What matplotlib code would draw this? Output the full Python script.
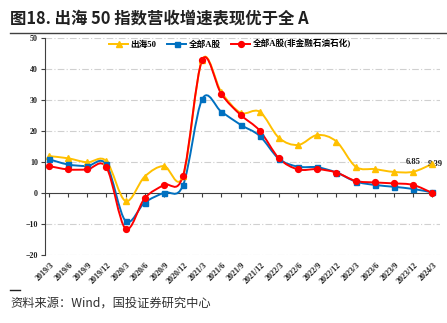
import matplotlib
matplotlib.use('Agg')
import matplotlib.pyplot as plt
from matplotlib.path import Path
from matplotlib.patches import PathPatch
from matplotlib.lines import Line2D
import matplotlib.transforms as mtransforms

# 数据
quarters = ['2019/3', '2019/6', '2019/9', '2019/12', '2020/3', '2020/6', '2020/9', '2020/12',
            '2021/3', '2021/6', '2021/9', '2021/12', '2022/3', '2022/6', '2022/9', '2022/12',
            '2023/3', '2023/6', '2023/9', '2023/12', '2024/3']
chuhai50 = [11.9, 11.2, 9.9, 10.3, -2.6, 5.3, 8.7, 5.5, 43.0, 32.5, 25.9, 26.2,
            17.8, 15.5, 18.7, 16.6, 8.5, 7.7, 6.8, 6.85, 9.39]
quan_a = [10.9, 9.2, 8.7, 9.2, -9.0, -3.1, 0.1, 2.5, 30.3, 26.2, 22.0, 18.4,
          11.0, 8.5, 8.3, 6.6, 3.7, 2.6, 2.0, 1.3, 0.2]
quan_a_ex = [8.7, 7.6, 7.6, 8.3, -11.5, -1.7, 2.6, 5.6, 42.9, 31.9, 25.2, 20.1,
             11.2, 7.6, 7.7, 6.6, 3.9, 3.4, 3.1, 2.6, 0.0]
series_names = ['出海50', '全部A股', '全部A股(非金融石油石化)']

colors = ['#FFC000', '#0070C0', '#FF0000']
markers = ['^', 's', 'o']
msizes = [3.8, 3.6, 4.2]

serif = ['Liberation Serif', 'Noto Sans CJK SC']
cjk = ['Noto Sans CJK SC', 'DejaVu Sans']


def smooth_path(xs, ys):
    # Excel风格平滑曲线（贝塞尔）
    n = len(xs)
    verts = [(xs[0], ys[0])]
    codes = [Path.MOVETO]
    for i in range(n - 1):
        a = i - 1 if i > 0 else i
        d = i + 2 if i + 2 < n else i + 1
        c1 = (xs[i] + (xs[i + 1] - xs[a]) / 6, ys[i] + (ys[i + 1] - ys[a]) / 6)
        c2 = (xs[i + 1] - (xs[d] - xs[i]) / 6, ys[i + 1] - (ys[d] - ys[i]) / 6)
        verts += [c1, c2, (xs[i + 1], ys[i + 1])]
        codes += [Path.CURVE4] * 3
    return Path(verts, codes)


fig = plt.figure(figsize=(4.47, 3.23), dpi=100)
ax = fig.add_axes([45 / 447, 1 - 255 / 323, 395 / 447, 217 / 323])

x = list(range(len(quarters)))
handles = []
for vals, c, m, ms, name in zip([chuhai50, quan_a, quan_a_ex], colors, markers, msizes, series_names):
    ax.add_patch(PathPatch(smooth_path(x, vals), fill=False, edgecolor=c, lw=1.4, zorder=3))
    ax.plot(x, vals, linestyle='none', marker=m, ms=ms, color=c, zorder=4)
    handles.append(Line2D([0], [0], color=c, lw=1.4, marker=m, ms=ms))

ax.set_xlim(-0.2, 20.4)
ax.set_ylim(-20, 50)
ax.set_yticks(range(-20, 51, 10))
for yv in range(-20, 51, 10):
    if yv != 0:
        ax.axhline(yv, color='#D0D0D0', lw=0.8, ls=(0, (6, 2, 1, 2)), zorder=1)

for s in ['top', 'right']:
    ax.spines[s].set_visible(False)
ax.spines['left'].set_color('#404040')
ax.spines['bottom'].set_position(('data', 0))
ax.spines['bottom'].set_color('#404040')
ax.spines['bottom'].set_bounds(-0.2, 20.05)
ax.tick_params(axis='y', direction='out', length=3, width=0.8, color='#404040', pad=2)
ax.tick_params(axis='x', direction='out', length=3, width=0.8, color='#404040', labelbottom=False)
ax.set_xticks(x)
for lab in ax.get_yticklabels():
    lab.set_fontfamily(serif)
    lab.set_fontweight('bold')
    lab.set_fontsize(5.8)
    lab.set_color('#202020')

# 横轴标签放在底部
trans = mtransforms.blended_transform_factory(ax.transData, ax.transAxes)
trans = trans + mtransforms.ScaledTranslation(1 / 100, -6 / 100, fig.dpi_scale_trans)
for xi, q in zip(x, quarters):
    ax.text(xi, 0, q, transform=trans, rotation=45, ha='right', va='top',
            rotation_mode='anchor', fontsize=5.8, fontweight='bold', family=serif, color='#202020')

# 数值标注
ax.annotate('6.85', (19, chuhai50[19]), xytext=(0, 4), textcoords='offset points',
            ha='center', va='bottom', fontsize=6.2, fontweight='bold', family=serif, color='#202020')
ax.annotate('9.39', (20, chuhai50[20]), xytext=(-3, 0), textcoords='offset points',
            ha='left', va='center', fontsize=6.2, fontweight='bold', family=serif, color='#202020')

leg = ax.legend(handles, series_names, loc='center', bbox_to_anchor=(230 / 447, 1 - 44 / 323),
                bbox_transform=fig.transFigure, ncol=3, frameon=False, handlelength=2.2,
                handletextpad=0.3, columnspacing=1.2,
                prop={'family': serif, 'size': 6.2, 'weight': 'bold'})

# 标题与来源
fig.text(10 / 447, 1 - 18 / 323, '图18. 出海 50 指数营收增速表现优于全 A', family=cjk,
         fontsize=11.8, fontweight='bold', va='center', ha='left', color='#202020')
fig.add_artist(Line2D([10 / 447, 1], [1 - 33 / 323, 1 - 33 / 323], color='#404040', lw=1.0))
fig.add_artist(Line2D([10 / 447, 20 / 447], [1 - 290 / 323, 1 - 290 / 323], color='#202020', lw=1.0))
fig.text(10 / 447, 1 - 303 / 323, '资料来源：Wind，国投证券研究中心', family=cjk,
         fontsize=8.8, va='center', ha='left', color='#303030', style='italic')

fig.savefig('out.png', dpi=100)
